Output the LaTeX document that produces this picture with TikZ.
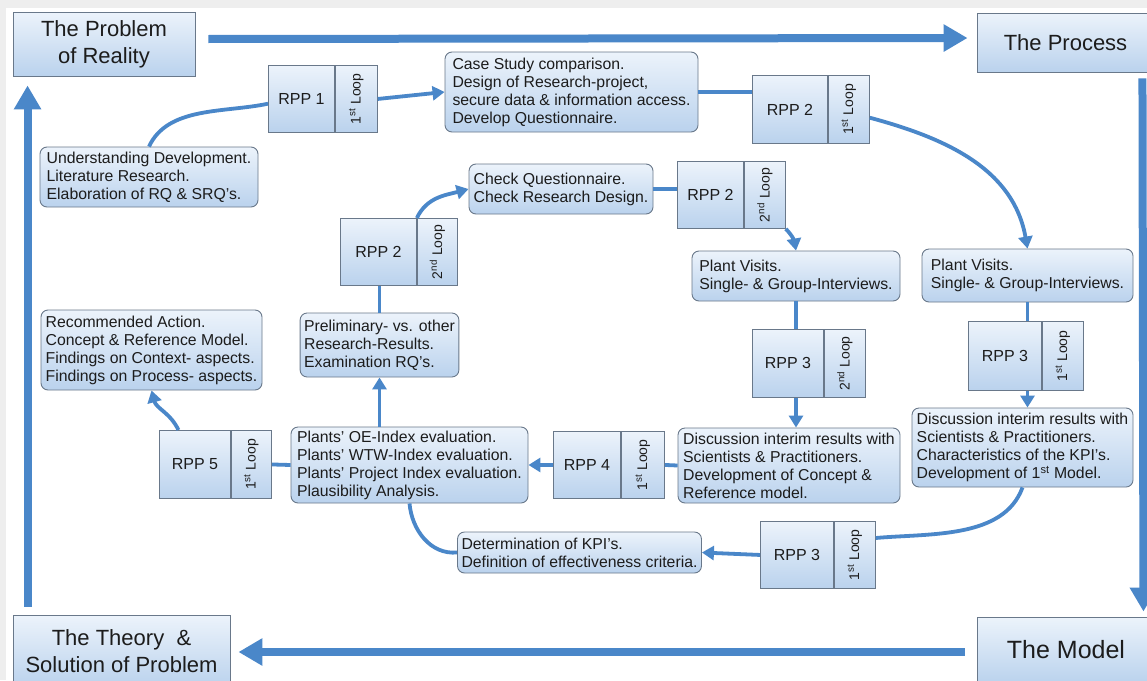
\documentclass[tikz,border=0pt]{standalone}
\usepackage{fontspec}
\setmainfont{Liberation Sans}
\usepackage{graphicx}
\usetikzlibrary{arrows.meta,calc}

\definecolor{flow}{RGB}{74,135,201}
\definecolor{edge}{RGB}{105,120,138}
\definecolor{shadetop}{RGB}{236,243,251}
\definecolor{shadebot}{RGB}{186,210,237}
\definecolor{ink}{RGB}{28,28,28}
\definecolor{frame}{RGB}{238,238,238}

% rotated loop caption inside the narrow side cell of each RPP block
\newcommand{\loopname}[1]{\rotatebox{90}{#1 Loop}}

\tikzset{
  panel/.style={draw=edge, line width=0.9pt, top color=shadetop, bottom color=shadebot, text=ink, inner sep=0pt},
  stage/.style={panel, align=center, font=\fontsize{22}{27}\selectfont},
  note/.style={panel, rounded corners=7pt, align=left, inner xsep=4pt, inner ysep=2pt, font=\fontsize{15.8}{18}\selectfont},
  rpp/.style={panel, minimum height=67pt, font=\fontsize{16}{18}\selectfont, anchor=north west},
  looptag/.style={panel, minimum height=67pt, font=\fontsize{14}{15}\selectfont, anchor=north west},
  big/.style={draw=flow, line width=8pt, -{Triangle[length=24pt,width=26pt]}},
  link/.style={draw=flow, line width=3.8pt},
  linkarr/.style={link, -{Triangle[length=12pt,width=14pt]}},
}

\begin{document}
\begin{tikzpicture}[x=1pt,y=1pt]
\useasboundingbox (0,0) rectangle (1147,-680);
\clip (0,0) rectangle (1147,-680);
\fill[frame] (0,0) rectangle (1147,-680);
\fill[white] (6,-8) rectangle (1147,-680);

% the four corner stages
\node[stage, minimum width=182pt, minimum height=64pt] (prob) at (104,-44) {The Problem\\of Reality};
\node[stage, minimum width=177pt, minimum height=59pt] (proc) at (1065.5,-42.5) {The Process};
\node[stage, minimum width=178pt, minimum height=66pt, font=\fontsize{25}{30}\selectfont] (model) at (1066,-650) {The Model};
\node[stage, minimum width=217pt, minimum height=72pt] (theory) at (121.5,-651) {The Theory \ \&\\Solution of Problem};

% text boxes
\node[note, minimum width=218pt, minimum height=60pt] (und) at (149,-177) {Understanding Development.\\Literature Research.\\Elaboration of RQ \& SRQ's.};
\node[note, minimum width=253pt, minimum height=80pt] (cs) at (571.5,-92) {Case Study comparison.\\Design of Research-project,\\secure data \& information access.\\Develop Questionnaire.};
\node[note, minimum width=184pt, minimum height=50pt] (cq) at (561,-189) {Check Questionnaire.\\Check Research Design.};
\node[note, minimum width=208pt, minimum height=50pt] (pvM) at (796,-276) {Plant Visits.\\Single- \& Group-Interviews.};
\node[note, minimum width=211pt, minimum height=53pt] (pvR) at (1027.5,-275.5) {Plant Visits.\\Single- \& Group-Interviews.};
\node[note, minimum width=221pt, minimum height=79pt] (discR) at (1022.5,-447.5) {Discussion interim results with\\Scientists \& Practitioners.\\Characteristics of the KPI's.\\Development of 1\textsuperscript{st} Model.};
\node[note, minimum width=222pt, minimum height=75pt] (discM) at (789,-465.5) {Discussion interim results with\\Scientists \& Practitioners.\\Development of Concept \&\\Reference model.};
\node[note, minimum width=243pt, minimum height=41pt] (det) at (579.5,-552.5) {Determination of KPI's.\\Definition of effectiveness criteria.};
\node[note, minimum width=237pt, minimum height=76pt] (plants) at (409.5,-465) {Plants' OE-Index evaluation.\\Plants' WTW-Index evaluation.\\Plants' Project Index evaluation.\\Plausibility Analysis.};
\node[note, minimum width=153pt, minimum height=64pt] (prelim) at (379.5,-345) {Preliminary- vs. other\\Research-Results.\\Examination RQ's.};
\node[note, minimum width=221pt, minimum height=80pt] (rec) at (151.5,-350) {Recommended Action.\\Concept \& Reference Model.\\Findings on Context- aspects.\\Findings on Process- aspects.};

% RPP blocks with their loop cells
\node[rpp, minimum width=66pt] (r1) at (268,-65) {RPP 1};
\node[looptag, minimum width=42pt] (r1t) at (r1.north east) {\loopname{1\textsuperscript{st}}};
\node[rpp, minimum width=75pt, minimum height=68pt] (r2a) at (752,-75) {RPP 2};
\node[looptag, minimum width=41pt, minimum height=68pt] (r2at) at (r2a.north east) {\loopname{1\textsuperscript{st}}};
\node[rpp, minimum width=76pt] (r2b) at (340,-218) {RPP 2};
\node[looptag, minimum width=40pt] (r2bt) at (r2b.north east) {\loopname{2\textsuperscript{nd}}};
\node[rpp, minimum width=66pt] (r2c) at (677,-161) {RPP 2};
\node[looptag, minimum width=41pt] (r2ct) at (r2c.north east) {\loopname{2\textsuperscript{nd}}};
\node[rpp, minimum width=73pt, minimum height=69pt] (r3R) at (968,-321) {RPP 3};
\node[looptag, minimum width=41pt, minimum height=69pt] (r3Rt) at (r3R.north east) {\loopname{1\textsuperscript{st}}};
\node[rpp, minimum width=71pt, minimum height=68pt] (r3c) at (752,-329) {RPP 3};
\node[looptag, minimum width=41pt, minimum height=68pt] (r3ct) at (r3c.north east) {\loopname{2\textsuperscript{nd}}};
\node[rpp, minimum width=67pt] (r4) at (553,-431) {RPP 4};
\node[looptag, minimum width=43pt] (r4t) at (r4.north east) {\loopname{1\textsuperscript{st}}};
\node[rpp, minimum width=73pt] (r3b) at (760,-521) {RPP 3};
\node[looptag, minimum width=41pt] (r3bt) at (r3b.north east) {\loopname{1\textsuperscript{st}}};
\node[rpp, minimum width=71pt, minimum height=68pt] (r5) at (159,-430) {RPP 5};
\node[looptag, minimum width=40pt, minimum height=68pt] (r5t) at (r5.north east) {\loopname{1\textsuperscript{st}}};

% outer cycle
\draw[big] ($(prob.east)+(13,5)$) -- ($(proc.west)+(-9,4.5)$);
\draw[big] ($(proc.south east)+(-12,-6)$) -- ($(model.north east)+(-12,5)$);
\draw[big] ($(model.west)+(-12,-2)$) -- ($(theory.east)+(8,-1)$);
\draw[big] ($(theory.north west)+(15,8)$) -- ($(prob.south west)+(15,-9)$);

% first loop
\draw[link] (und.north) to[out=65,in=192,looseness=0.9] ($(r1.north west)!0.57!(r1.south west)$);
\draw[linkarr] (r1t.east) -- (cs.west);
\draw[link] (cs.east) -- (cs.east -| r2a.west);
\draw[linkarr] ($(r2at.north east)!0.62!(r2at.south east)$) to[out=-15,in=100] (pvR.north);
\draw[link] (pvR.south) -- (pvR.south |- r3R.north);
\draw[linkarr] (pvR.south |- r3R.south) -- (pvR.south |- discR.north);
\draw[link] (discR.south) to[out=-110,in=5,looseness=0.9] ($(r3bt.north east)!0.25!(r3bt.south east)$);
\draw[linkarr] (r3b.west) -- (det.east);
\draw[link] (det.west) to[out=185,in=-85] (plants.south);

% second loop
\draw[linkarr] (prelim.south |- plants.north) -- (prelim.south);
\draw[link] (prelim.north) -- (prelim.north |- r2b.south);
\draw[linkarr] (r2b.north east) to[out=65,in=195] (cq.west);
\draw[link] (cq.east) -- (cq.east -| r2c.west);
\draw[linkarr] (r2ct.south east) to[out=-45,in=100] (pvM.north);
\draw[link] (pvM.south) -- (pvM.south |- r3c.north);
\draw[linkarr] (pvM.south |- r3c.south) -- (pvM.south |- discM.north);
\draw[link] (discM.west) -- (r4t.east);
\draw[linkarr] (r4.west) -- (plants.east);

% closing step
\draw[link] (r5t.east) -- (plants.west);
\draw[linkarr] ($(r5.north west)!0.27!(r5.north east)$) to[out=115,in=-75] (rec.south);
\end{tikzpicture}
\end{document}
